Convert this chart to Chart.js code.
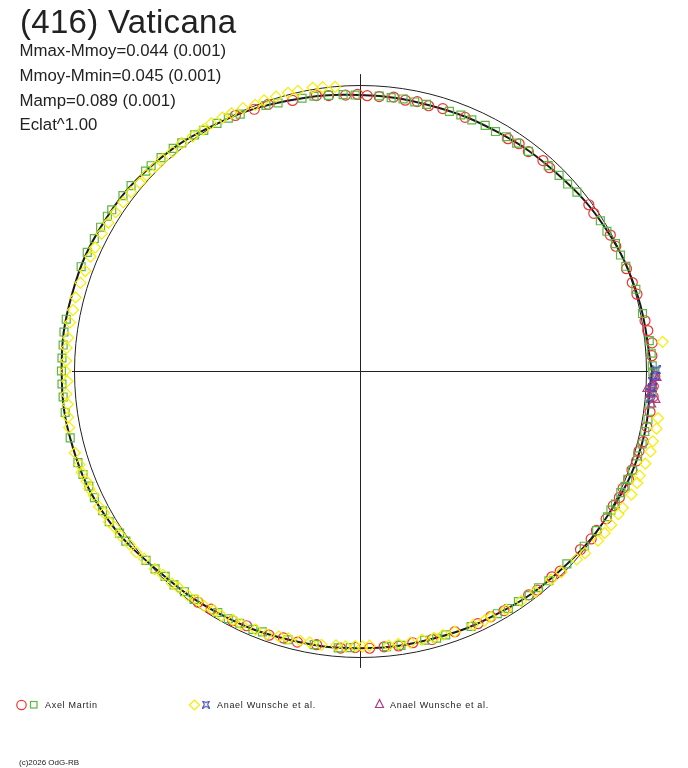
<!DOCTYPE html>
<html>
<head>
<meta charset="utf-8">
<script src="https://cdn.jsdelivr.net/npm/chart.js@4.4.1/dist/chart.umd.min.js"></script>
<style>
  html, body { margin: 0; padding: 0; background: #fff; }
  #wrap { position: relative; width: 688px; height: 768px; overflow: hidden; }
  #c { position: absolute; left: 0; top: 0; }
  .t { position: absolute; white-space: nowrap; line-height: 1; color: #222;
       font-family: "Liberation Sans", Arial, sans-serif; }
  .lg { font-size: 9px; letter-spacing: 0.7px; top: 701px; }
</style>
</head>
<body>
<div id="wrap">
  <canvas id="c" width="688" height="768"></canvas>
  <div class="t" style="left:20px;top:5px;font-size:33px;letter-spacing:0.3px">(416) Vaticana</div>
  <div class="t" style="left:19.5px;top:43px;font-size:16.8px">Mmax-Mmoy=0.044 (0.001)</div>
  <div class="t" style="left:19.5px;top:68px;font-size:16.8px">Mmoy-Mmin=0.045 (0.001)</div>
  <div class="t" style="left:19.5px;top:93px;font-size:16.8px">Mamp=0.089 (0.001)</div>
  <div class="t" style="left:19.5px;top:117px;font-size:16.8px">Eclat^1.00</div>
  <div class="t lg" style="left:45px">Axel Martin</div>
  <div class="t lg" style="left:217px">Anael Wunsche et al.</div>
  <div class="t lg" style="left:390px">Anael Wunsche et al.</div>
  <div class="t" style="left:19px;top:759px;font-size:8px">(c)2026 OdG-RB</div>
</div>
<script>
// polar light curve: angle = rotational phase (deg), radius = relative flux ^ eclat
const eclat = 1.00;

// fitted light curve, read every 15 degrees
const fitAngle = [0, 15, 30, 45, 60, 75, 90, 105, 120, 135, 150, 165,
                  180, 195, 210, 225, 240, 255, 270, 285, 300, 315, 330, 345];
const fitFlux = [1.021, 1.006, 0.993, 0.975, 0.964, 0.960, 0.965, 0.978, 0.999, 1.022, 1.036, 1.042,
                 1.043, 1.039, 1.024, 0.993, 0.981, 0.972, 0.969, 0.970, 0.976, 0.988, 1.003, 1.018];

// Axel Martin, session 1 (red circles)
const redAngle = [235, 238, 243, 246, 251, 254, 257, 261, 266, 269,
  272, 275, 278, 281, 285, 290, 295, 298, 301, 307,
  309, 313, 315, 321, 324, 326, 329, 332, 334, 336,
  338, 340, 342, 344, 346, 349, 352, 355, 357, 359,
  3, 5.5, 8, 10, 15.5, 18, 21, 26, 28.5, 34,
  36, 47, 49, 52.5, 55, 57.5, 67.5, 72.5, 75.5, 78,
  80.5, 83, 86, 88.5, 90.5, 93, 96.5, 99, 104, 109,
  112, 116];
const redFlux = [0.987, 0.982, 0.980, 0.975, 0.977, 0.971, 0.973, 0.969, 0.971, 0.967,
  0.970, 0.968, 0.971, 0.968, 0.972, 0.970, 0.975, 0.973, 0.978, 0.980,
  0.986, 0.984, 0.990, 0.992, 0.999, 0.997, 1.004, 1.003, 1.009, 1.007,
  1.013, 1.012, 1.017, 1.015, 1.021, 1.022, 1.024, 1.029, 1.027, 1.031,
  1.022, 1.026, 1.016, 1.012, 1.005, 1.001, 0.998, 0.995, 0.996, 0.986,
  0.989, 0.972, 0.975, 0.967, 0.970, 0.963, 0.960, 0.962, 0.958, 0.963,
  0.960, 0.965, 0.962, 0.963, 0.967, 0.966, 0.969, 0.975, 0.975, 0.986,
  0.987, 0.994];

// Axel Martin, session 2 (green squares)
const greenAngle = [1, 3.5, 6, 11.5, 16.5, 21.5, 24, 26.5, 29.5, 32,
  39.5, 42, 44.5, 47.5, 52.5, 55.5, 58, 60.5, 63, 66,
  68.5, 71, 76, 78.5, 81, 83.5, 86, 91,
  93.5, 96.5, 99.5, 102, 107, 109.5, 115, 117.5, 120, 123,
  125, 128, 130, 133, 135.5, 137, 141, 143.5, 147, 148.5,
  151, 153.5, 156.5, 159.5, 170, 172.5, 175, 177.5, 180,
  182.5, 185, 188, 193, 198, 200.5, 203, 205.5, 208.5, 211,
  214, 216, 221.5, 224, 226.5, 229, 231.5, 234, 239.5, 242,
  244.5, 247.5, 249.5, 255, 260.5, 265.5, 268,
  275.5, 278.5, 283.5, 286, 288, 293.5, 299.5, 302, 304.5, 307,
  309.5, 312, 317, 322, 326, 329.5, 331, 332.5, 335, 336.5, 338, 340,
  343, 345.5, 348, 350.5, 353.5, 356, 359.8];
const greenFlux = [1.022, 1.020, 1.017, 1.008, 1.006, 0.999, 0.997, 0.998, 0.992, 0.991,
  0.983, 0.977, 0.976, 0.974, 0.968, 0.967, 0.966, 0.962, 0.964, 0.961,
  0.962, 0.960, 0.961, 0.960, 0.963, 0.962, 0.964, 0.965,
  0.968, 0.970, 0.974, 0.975, 0.980, 0.985, 0.991, 0.997, 1.000, 1.003,
  1.008, 1.012, 1.016, 1.020, 1.024, 1.025, 1.030, 1.031, 1.035, 1.036,
  1.037, 1.038, 1.040, 1.041, 1.043, 1.044, 1.042, 1.043, 1.044,
  1.043, 1.042, 1.041, 1.040, 1.037, 1.034, 1.030, 1.029, 1.024, 1.023,
  1.014, 1.012, 0.999, 0.996, 0.990, 0.991, 0.986, 0.987, 0.980, 0.981,
  0.977, 0.978, 0.974, 0.973, 0.970, 0.971, 0.968,
  0.968, 0.970, 0.968, 0.972, 0.970, 0.974, 0.975, 0.979, 0.978, 0.983,
  0.982, 0.987, 0.989, 0.995, 0.998, 1.004, 1.003, 1.007, 1.006, 1.011, 1.010, 1.014,
  1.015, 1.019, 1.018, 1.021, 1.020, 1.023, 1.024];

// Anael Wunsche et al. (yellow diamonds)
const yellowAngle = [95, 97.5, 99.5, 102.5, 104.5, 107, 109.5, 111.5, 114, 116.5,
  118.5, 121, 123, 125.5, 128, 130.5, 133, 135, 137.5, 139.5,
  142, 144.5, 147, 149.5, 152, 155, 157, 160, 162.5, 165.5,
  168, 170.5, 173.5, 175.5, 178, 180,
  182, 184.5, 186.5, 189, 191, 196, 198.5, 200, 202, 203.5,
  205, 207.5, 209, 211, 212.5, 214.5, 217, 219, 221, 224,
  226, 228.5, 230, 232.5, 234.5, 236.5, 238.5, 240.5, 243, 245,
  248, 250.5, 253, 255, 257.5, 259.5, 262, 265, 267, 269,
  270.5, 272, 276, 278, 280.5, 283, 285.5, 287.5, 290, 294,
  296.5, 298, 301.5, 305, 308.5, 312.5, 315, 319, 321, 324.5,
  326.5, 328.5, 331, 332.5, 335.5, 338, 339.5, 342, 344.5, 346.5,
  349, 351, 5.5];
const yellowFlux = [0.997, 1.001, 1.004, 1.003, 1.005, 1.003, 1.004, 1.000, 1.006, 1.007,
  1.008, 1.010, 1.006, 1.007, 1.011, 1.009, 1.012, 1.011, 1.014, 1.013,
  1.016, 1.017, 1.019, 1.021, 1.023, 1.022, 1.024, 1.022, 1.025, 1.027,
  1.026, 1.028, 1.027, 1.029, 1.028, 1.030,
  1.024, 1.030, 1.028, 1.033, 1.036, 1.037, 1.034, 1.036, 1.031, 1.032,
  1.027, 1.028, 1.023, 1.024, 1.017, 1.016, 1.008, 1.007, 1.000, 0.997,
  0.991, 0.992, 0.988, 0.989, 0.984, 0.986, 0.981, 0.983, 0.977, 0.979,
  0.975, 0.977, 0.970, 0.968, 0.966, 0.965, 0.967, 0.963, 0.964, 0.962,
  0.964, 0.961, 0.965, 0.963, 0.966, 0.964, 0.968, 0.967, 0.970, 0.972,
  0.975, 0.974, 0.979, 0.982, 0.986, 0.989, 0.995, 1.004, 1.012, 1.022,
  1.026, 1.030, 1.033, 1.036, 1.043, 1.045, 1.044, 1.049, 1.054, 1.053,
  1.056, 1.055, 1.063];

// Anael Wunsche et al., second set (blue)
const blueAngle = [0.2, 359, 357.9, 356.7, 355.7, 354.5];
const blueFlux = [1.035, 1.032, 1.025, 1.023, 1.020, 1.019];

// Anael Wunsche et al., third set (purple triangles)
const purpleAngle = [358.6, 357.1, 356.4, 355.3, 354.4, 353.4];
const purpleFlux = [1.039, 1.026, 1.005, 1.016, 1.040, 1.027];

// frame geometry (pixels)
const W = 688, H = 768, CX = 360, CY = 371, UNIT = 286;
const crossReachX = 1.007, crossReachY = 1.038;

function polar(angles, fluxes) {
  return angles.map((a, i) => {
    const r = Math.pow(fluxes[i], eclat);
    const t = a * Math.PI / 180;
    return { x: r * Math.cos(t), y: r * Math.sin(t) };
  });
}

const fitPoints = polar(fitAngle.concat([fitAngle[0] + 360]), fitFlux.concat([fitFlux[0]]));

// small concave star used for the blue set
function blueStar(size, color) {
  const c = document.createElement('canvas');
  c.width = size; c.height = size;
  const g = c.getContext('2d');
  const a = 0.5, b = size - 0.5, m = size / 2, k = size * 0.28;
  g.strokeStyle = color; g.lineWidth = 1.2;
  g.beginPath();
  g.moveTo(a, a); g.lineTo(m, k); g.lineTo(b, a); g.lineTo(size - k, m);
  g.lineTo(b, b); g.lineTo(m, size - k); g.lineTo(a, b); g.lineTo(k, m);
  g.closePath(); g.stroke();
  return c;
}

const RED = '#f03434', GREEN = '#5cb840', YELLOW = '#f8ee00', BLUE = '#3a48b0', PURPLE = '#b03888';
const starImg = blueStar(9, BLUE);

const polarFrame = {
  id: 'polarFrame',
  beforeDatasetsDraw(chart) {
    const { ctx, scales: { x, y } } = chart;
    const cx = x.getPixelForValue(0) + 0.5, cy = y.getPixelForValue(0) + 0.5;
    const rx = x.getPixelForValue(1) - x.getPixelForValue(0);
    const ry = y.getPixelForValue(0) - y.getPixelForValue(1);
    ctx.save();
    ctx.strokeStyle = '#222';
    ctx.lineWidth = 1;
    ctx.beginPath();
    ctx.ellipse(cx, cy, rx, ry, 0, 0, Math.PI * 2);
    ctx.stroke();
    ctx.beginPath();
    ctx.moveTo(x.getPixelForValue(-crossReachX), cy);
    ctx.lineTo(x.getPixelForValue(crossReachX), cy);
    ctx.moveTo(cx, y.getPixelForValue(crossReachY));
    ctx.lineTo(cx, y.getPixelForValue(-crossReachY));
    ctx.stroke();
    ctx.restore();
  },
  afterDraw(chart) {
    // legend symbols
    const ctx = chart.ctx;
    ctx.save();
    ctx.lineWidth = 1.2;
    ctx.strokeStyle = RED;
    ctx.beginPath(); ctx.arc(21.5, 705, 4.7, 0, Math.PI * 2); ctx.stroke();
    ctx.strokeStyle = GREEN;
    ctx.strokeRect(30.5, 701.5, 6.5, 6.5);
    ctx.strokeStyle = YELLOW;
    ctx.beginPath();
    ctx.moveTo(189.5, 705); ctx.lineTo(194.5, 700); ctx.lineTo(199.5, 705); ctx.lineTo(194.5, 710);
    ctx.closePath(); ctx.stroke();
    ctx.drawImage(starImg, 202, 700.5, 8, 8);
    ctx.strokeStyle = PURPLE;
    ctx.beginPath();
    ctx.moveTo(379.5, 699.5); ctx.lineTo(383.5, 707.5); ctx.lineTo(375.5, 707.5);
    ctx.closePath(); ctx.stroke();
    ctx.restore();
  }
};

function markers(label, angles, fluxes, color, style, radius) {
  return {
    label,
    data: polar(angles, fluxes),
    showLine: false,
    pointStyle: style,
    pointRadius: radius,
    pointBorderWidth: 1.2,
    pointBorderColor: color,
    pointBackgroundColor: 'rgba(0,0,0,0)'
  };
}

new Chart(document.getElementById('c'), {
  type: 'scatter',
  data: {
    datasets: [
      markers('Anael Wunsche et al. (3)', purpleAngle, purpleFlux, PURPLE, 'triangle', 4.5),
      markers('Anael Wunsche et al. (2)', blueAngle, blueFlux, BLUE, starImg, 4.5),
      markers('Anael Wunsche et al.', yellowAngle, yellowFlux, YELLOW, 'rectRot', 5.5),
      markers('Axel Martin (2)', greenAngle, greenFlux, GREEN, 'rect', 5.6),
      markers('Axel Martin', redAngle, redFlux, RED, 'circle', 5),
      {
        label: 'fit',
        data: fitPoints,
        showLine: true,
        pointRadius: 0,
        borderColor: '#1a1a1a',
        borderWidth: 2,
        tension: 0.4,
        fill: false
      }
    ]
  },
  options: {
    responsive: false,
    animation: false,
    events: [],
    layout: { padding: 0, autoPadding: false },
    plugins: { legend: { display: false }, tooltip: { enabled: false }, title: { display: false } },
    scales: {
      x: { type: 'linear', display: false, min: -CX / UNIT, max: (W - CX) / UNIT },
      y: { type: 'linear', display: false, min: -(H - CY) / UNIT, max: CY / UNIT }
    }
  },
  plugins: [polarFrame]
});
</script>
</body>
</html>
